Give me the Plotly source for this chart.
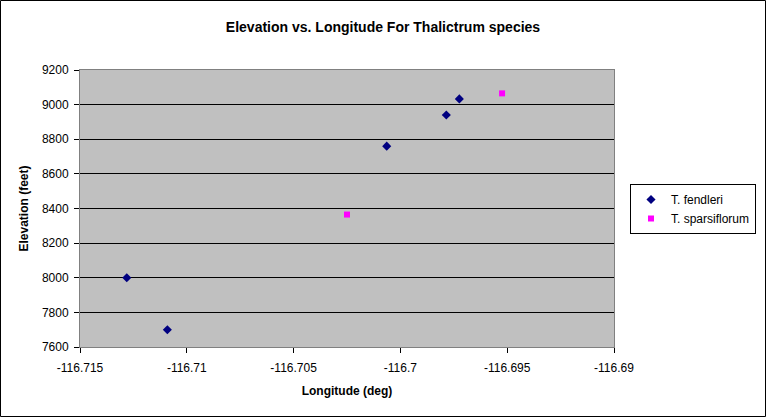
import plotly.graph_objects as go

# 데이터: Thalictrum 종별 경도 / 고도
fendleri_lon = [-116.71281, -116.71091, -116.70064, -116.69785, -116.69724]
fendleri_elev = [8000, 7700, 8760, 8940, 9033]

sparsi_lon = [-116.7025, -116.69524]
sparsi_elev = [8365, 9065]

x_ticks = [-116.715, -116.71, -116.705, -116.7, -116.695, -116.69]
x_tick_labels = ["-116.715", "-116.71", "-116.705", "-116.7", "-116.695", "-116.69"]

FONT = "Arial, Liberation Sans, sans-serif"

fig = go.Figure()

fig.add_trace(go.Scatter(
    x=fendleri_lon, y=fendleri_elev, mode="markers", name="T. fendleri",
    marker=dict(symbol="diamond", size=7, color="#000080"),
))
fig.add_trace(go.Scatter(
    x=sparsi_lon, y=sparsi_elev, mode="markers", name="T. sparsiflorum",
    marker=dict(symbol="square", size=6, color="#FF00FF"),
))

fig.update_layout(
    width=766, height=417,
    margin=dict(l=80, r=152, t=70, b=70, autoexpand=False),
    paper_bgcolor="white",
    plot_bgcolor="#C0C0C0",
    font=dict(family=FONT, size=12, color="black"),
    title=dict(
        text="<b>Elevation vs. Longitude For Thalictrum species</b>",
        x=0.5, xanchor="center", y=1 - 27 / 417, yanchor="middle",
        font=dict(size=14, family=FONT),
    ),
    legend=dict(
        x=(630 - 80) / 534, y=(347 - 184) / 277, xanchor="left", yanchor="top",
        bgcolor="white", bordercolor="black", borderwidth=1,
        font=dict(size=12, family=FONT),
        itemsizing="trace", itemwidth=30, tracegroupgap=0,
    ),
    showlegend=True,
)

fig.update_xaxes(
    range=[-116.715, -116.69], tickvals=x_ticks, ticktext=x_tick_labels,
    showgrid=False, zeroline=False,
    showline=True, linecolor="#808080", linewidth=1, mirror=True,
    ticks="outside", ticklen=5, tickcolor="black", ticklabelstandoff=5,
    title=dict(text="<b>Longitude (deg)</b>", font=dict(size=12), standoff=12),
)
fig.update_yaxes(
    range=[7600, 9200], dtick=200,
    showgrid=True, gridcolor="black", gridwidth=1, zeroline=False,
    showline=True, linecolor="#808080", linewidth=1, mirror=True,
    ticks="outside", ticklen=5, tickcolor="black", ticklabelstandoff=3,
    title=dict(text="<b>Elevation (feet)</b>", font=dict(size=12), standoff=10),
)

# 차트 전체 테두리
fig.add_shape(
    type="rect", xref="paper", yref="paper",
    x0=-79.5 / 534, x1=685.5 / 534, y0=-69.5 / 277, y1=346.5 / 277,
    line=dict(color="black", width=1), fillcolor="rgba(0,0,0,0)", layer="above",
)

# body 기본 여백 제거, 모드바 숨김
fig.write_html(
    "out.html",
    config={"displayModeBar": False},
    post_script="document.body.style.margin='0';",
)
